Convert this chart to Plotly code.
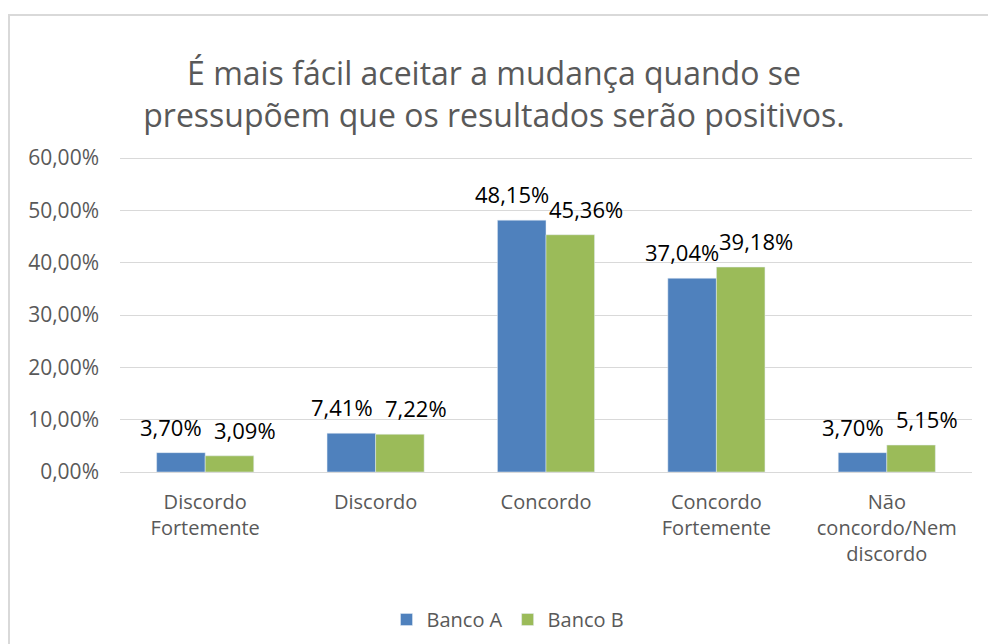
import plotly.graph_objects as go

categories = ["Discordo<br>Fortemente", "Discordo", "Concordo", "Concordo<br>Fortemente", "Não<br>concordo/Nem<br>discordo"]
banco_a = [0.0370, 0.0741, 0.4815, 0.3704, 0.0370]
banco_b = [0.0309, 0.0722, 0.4536, 0.3918, 0.0515]
y_ticks = [0, 0.1, 0.2, 0.3, 0.4, 0.5, 0.6]

FONT = "Open Sans"
W, H = 988, 644
L, R, T, B = 120, 16, 155, 172
pw, ph = W - L - R, H - T - B


def px_x(p):
    return (p - L) / pw


def px_y(p):
    return (H - B - p) / ph


fig = go.Figure()
fig.add_trace(go.Bar(name="Banco A", x=categories, y=banco_a, marker_color="#4f81bd"))
fig.add_trace(go.Bar(name="Banco B", x=categories, y=banco_b, marker_color="#9bbb59"))


def fmt(v):
    return f"{v*100:.2f}%".replace(".", ",")


annotations = []
for cat, a, b in zip(categories, banco_a, banco_b):
    annotations.append(dict(x=cat, y=a, xref="x", yref="y", text=fmt(a), showarrow=False,
                            xanchor="center", yanchor="bottom", xshift=-34, yshift=9,
                            font=dict(size=22, color="#000000", family=FONT)))
    annotations.append(dict(x=cat, y=b, xref="x", yref="y", text=fmt(b), showarrow=False,
                            xanchor="center", yanchor="bottom", xshift=40, yshift=9,
                            font=dict(size=22, color="#000000", family=FONT)))

fig.update_layout(
    width=W, height=H,
    separators=",.",
    barmode="group", bargap=0.43, bargroupgap=0,
    paper_bgcolor="white", plot_bgcolor="white",
    margin=dict(l=L, r=R, t=T, b=B, autoexpand=False),
    font=dict(family=FONT, color="#595959", size=20),
    title=dict(text="É mais fácil aceitar a mudança quando se<br>pressupõem que os resultados serão positivos.",
               x=0.5, xanchor="center", y=1 - 85 / H, yanchor="top",
               font=dict(size=32, color="#595959", family=FONT)),
    legend=dict(orientation="h", x=0.5 - 38 / pw, xanchor="center", yref="container", y=(H - 600) / H,
                yanchor="top", font=dict(size=20, color="#595959"), traceorder="normal"),
    yaxis=dict(range=[0, 0.606], tickvals=y_ticks, tickformat=".2%",
               gridcolor="#d9d9d9", gridwidth=1, zeroline=False, showline=False,
               ticks="", ticklen=0, ticklabelstandoff=20, tickfont=dict(size=21, color="#595959")),
    xaxis=dict(showline=True, linecolor="#d9d9d9", ticks="", ticklabelstandoff=12,
               tickfont=dict(size=20, color="#595959")),
    annotations=annotations,
    shapes=[dict(type="rect", xref="paper", yref="paper",
                 x0=px_x(9), x1=px_x(1000),
                 y0=px_y(660), y1=px_y(15),
                 line=dict(color="#d9d9d9", width=2), fillcolor="rgba(0,0,0,0)", layer="below")],
)

fig.write_html("out.html", config={"displayModeBar": False},
               post_script="document.body.style.margin='0';")
